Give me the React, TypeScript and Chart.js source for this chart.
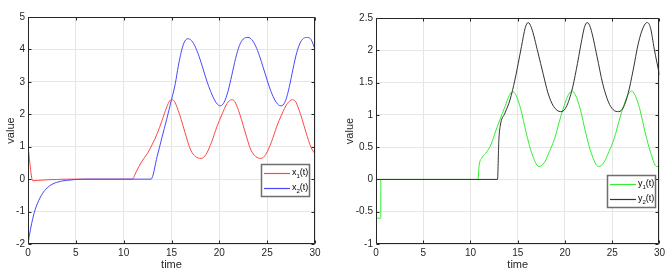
import React, { useEffect, useRef } from "react";
import { Chart, registerables } from "chart.js";

Chart.register(...registerables);

// ---------- Data (left panel) ----------
const tX1 = [0, 0.5, 1, 2, 3, 4, 10.9, 11.3, 11.9, 12.5, 13, 13.5, 14, 14.5, 14.8, 15, 15.3, 15.7, 16, 16.4, 17, 17.5, 18.1, 18.6, 19.2, 19.75, 20.25, 20.8, 21.3, 21.6, 22.0, 22.3, 22.7, 23.3, 23.8, 24.35, 24.85, 25.45, 26.0, 26.5, 27.1, 27.65, 27.95, 28.35, 28.65, 29.05, 29.6, 30];
const vX1 = [1, -0.05, -0.04, -0.02, -0.01, 0, 0, 0.22, 0.55, 0.8, 1.08, 1.4, 1.8, 2.22, 2.41, 2.45, 2.4, 2.12, 1.85, 1.45, 0.9, 0.7, 0.64, 0.76, 1.15, 1.62, 1.98, 2.33, 2.45, 2.4, 2.12, 1.85, 1.45, 0.9, 0.7, 0.64, 0.76, 1.15, 1.62, 1.98, 2.33, 2.45, 2.4, 2.12, 1.85, 1.45, 0.97, 0.78];

const tX2 = [0, 0.25, 0.5, 0.75, 1, 1.5, 2, 2.5, 3, 3.5, 4, 5, 6, 12.86, 13.5, 14, 14.5, 15, 15.4, 15.7, 16.0, 16.3, 16.7, 17.1, 17.5, 17.9, 18.3, 18.7, 19.1, 19.5, 19.8, 20.1, 20.5, 20.9, 21.3, 21.7, 22.1, 22.5, 23.0, 23.4, 23.8, 24.2, 24.6, 25.0, 25.4, 25.8, 26.1, 26.45, 26.85, 27.2, 27.6, 28.0, 28.4, 28.8, 29.2, 29.6, 30];
const vX2 = [-2, -1.56, -1.21, -0.94, -0.74, -0.45, -0.27, -0.16, -0.1, -0.06, -0.04, -0.01, 0, 0, 0.7, 1.28, 1.85, 2.45, 2.95, 3.47, 3.9, 4.2, 4.33, 4.27, 4.07, 3.77, 3.4, 3.02, 2.7, 2.44, 2.31, 2.26, 2.37, 2.7, 3.2, 3.72, 4.12, 4.32, 4.37, 4.3, 4.1, 3.8, 3.43, 3.05, 2.7, 2.44, 2.31, 2.26, 2.37, 2.7, 3.25, 3.8, 4.17, 4.34, 4.37, 4.3, 4.0];

// ---------- Data (right panel) ----------
const tY1 = [0, 0.5, 0.51, 10.8, 10.9, 11.2, 11.74, 12.2, 12.6, 13.1, 13.66, 14.1, 14.45, 14.8, 15.3, 15.9, 16.5, 17.25, 17.85, 18.35, 18.9, 19.55, 20.05, 20.4, 20.75, 21.1, 21.6, 22.2, 22.8, 23.55, 24.15, 24.65, 25.2, 25.85, 26.35, 26.7, 27.05, 27.4, 27.9, 28.5, 29.1, 29.7, 30];
const vY1 = [-0.6, -0.6, 0, 0, 0.2, 0.33, 0.43, 0.55, 0.72, 0.92, 1.13, 1.3, 1.36, 1.31, 1.1, 0.72, 0.4, 0.2, 0.27, 0.43, 0.63, 0.97, 1.2, 1.32, 1.37, 1.31, 1.1, 0.72, 0.4, 0.2, 0.27, 0.43, 0.63, 0.97, 1.2, 1.32, 1.37, 1.31, 1.1, 0.72, 0.4, 0.2, 0.2];

const tY2 = [0, 12.86, 13.0, 13.14, 13.66, 14.18, 14.7, 15.4, 15.8, 16.1, 16.45, 17.15, 17.7, 18.2, 18.8, 19.55, 20.05, 20.7, 21.2, 21.7, 22.05, 22.35, 22.7, 23.4, 24.0, 24.6, 25.1, 25.7, 26.2, 26.7, 27.2, 27.77, 28.3, 28.7, 29.05, 29.45, 30];
const vY2 = [0, 0, 0.6, 0.82, 1.03, 1.23, 1.54, 2.06, 2.35, 2.43, 2.35, 1.96, 1.63, 1.34, 1.13, 1.05, 1.1, 1.36, 1.7, 2.1, 2.35, 2.43, 2.35, 1.9, 1.48, 1.2, 1.08, 1.05, 1.12, 1.34, 1.68, 2.11, 2.36, 2.43, 2.35, 2.02, 1.62];

const xLabel = "time";
const yLabel = "value";
const legendLeft = [
  { base: "x", sub: "1", tail: "(t)" },
  { base: "x", sub: "2", tail: "(t)" },
];
const legendRight = [
  { base: "y", sub: "1", tail: "(t)" },
  { base: "y", sub: "2", tail: "(t)" },
];

const FONT = '"Liberation Sans", Arial, sans-serif';
const TICK_COLOR = "#262626";

const pts = (t: number[], v: number[]) => t.map((x, i) => ({ x, y: v[i] }));

const matlabPlugin = {
  id: "matlab",
  afterDraw(chart: any, _args: any, opts: any) {
    const ctx = chart.ctx as CanvasRenderingContext2D;
    const a = chart.chartArea;
    const L = Math.round(a.left) + 0.5;
    const R = Math.round(a.right) - 0.5;
    const T = Math.round(a.top) + 0.5;
    const B = Math.round(a.bottom) - 0.5;
    ctx.save();
    ctx.strokeStyle = TICK_COLOR;
    ctx.lineWidth = 1;
    ctx.beginPath();
    ctx.rect(L, T, R - L, B - T);
    ctx.stroke();
    const xs = chart.scales.x;
    const ys = chart.scales.y;
    ctx.beginPath();
    xs.ticks.forEach((_t: any, i: number) => {
      const px = Math.round(xs.getPixelForTick(i)) + 0.5;
      ctx.moveTo(px, B);
      ctx.lineTo(px, B - 3);
      ctx.moveTo(px, T);
      ctx.lineTo(px, T + 3);
    });
    ys.ticks.forEach((_t: any, i: number) => {
      const py = Math.round(ys.getPixelForTick(i)) + 0.5;
      ctx.moveTo(L, py);
      ctx.lineTo(L + 3, py);
      ctx.moveTo(R, py);
      ctx.lineTo(R - 3, py);
    });
    ctx.stroke();

    // legend
    const lg = opts.legend;
    if (lg) {
      const bx = Math.round(a.right) - lg.right - lg.w;
      const by = lg.top;
      ctx.fillStyle = "#ffffff";
      ctx.fillRect(bx, by, lg.w, lg.h);
      ctx.strokeStyle = "#6e6e6e";
      ctx.lineWidth = 1.5;
      ctx.strokeRect(bx + 0.5, by + 0.5, lg.w, lg.h);
      lg.rows.forEach((r: any, i: number) => {
        const y = by + lg.rowY[i];
        const color = chart.data.datasets[i].borderColor;
        ctx.strokeStyle = color;
        ctx.lineWidth = 1.2;
        ctx.beginPath();
        ctx.moveTo(bx + 3, y + 0.5);
        ctx.lineTo(bx + 29, y + 0.5);
        ctx.stroke();
        ctx.fillStyle = "#000000";
        ctx.textBaseline = "middle";
        ctx.textAlign = "left";
        let x = bx + 31;
        ctx.font = "9px " + FONT;
        ctx.fillText(r.base, x, y);
        x += ctx.measureText(r.base).width;
        ctx.font = "6px " + FONT;
        ctx.fillText(r.sub, x, y + 3);
        x += ctx.measureText(r.sub).width;
        ctx.font = "9px " + FONT;
        ctx.fillText(r.tail, x, y);
      });
    }
    ctx.restore();
  },
};

function makeConfig(
  ds: { data: { x: number; y: number }[]; color: string }[],
  yMin: number,
  yMax: number,
  yStep: number,
  yWidth: number,
  padding: any,
  legend: any
): any {
  return {
    type: "line",
    data: {
      datasets: ds.map((d, i) => ({
        data: d.data,
        borderColor: d.color,
        borderWidth: 1,
        pointRadius: 0,
        fill: false,
        cubicInterpolationMode: "monotone",
        order: ds.length - i,
      })),
    },
    options: {
      responsive: false,
      animation: false,
      events: [],
      layout: { padding },
      plugins: {
        legend: { display: false },
        tooltip: { enabled: false },
        matlab: { legend },
      },
      scales: {
        x: {
          type: "linear",
          min: 0,
          max: 30,
          ticks: {
            stepSize: 5,
            color: TICK_COLOR,
            font: { family: FONT, size: 10 },
            padding: 3,
            maxRotation: 0,
          },
          grid: { color: "#e6e6e6", drawTicks: false },
          border: { display: false },
          title: {
            display: true,
            text: xLabel,
            color: TICK_COLOR,
            font: { family: FONT, size: 11 },
            padding: { top: 0, bottom: 4 },
          },
          afterFit: (s: any) => {
            s.height = 32;
          },
        },
        y: {
          type: "linear",
          min: yMin,
          max: yMax,
          ticks: {
            stepSize: yStep,
            color: TICK_COLOR,
            font: { family: FONT, size: 10 },
            padding: 3,
            callback: (v: any) => String(Math.round(v * 100) / 100),
          },
          grid: { color: "#e6e6e6", drawTicks: false },
          border: { display: false },
          title: {
            display: true,
            text: yLabel,
            color: TICK_COLOR,
            font: { family: FONT, size: 11 },
            padding: { top: 4, bottom: 0 },
          },
          afterFit: (s: any) => {
            s.width = yWidth;
          },
        },
      },
    },
    plugins: [matlabPlugin],
  };
}

export default function App() {
  const leftRef = useRef<HTMLCanvasElement | null>(null);
  const rightRef = useRef<HTMLCanvasElement | null>(null);

  useEffect(() => {
    const c1 = new Chart(
      leftRef.current as HTMLCanvasElement,
      makeConfig(
        [
          { data: pts(tX1, vX1), color: "#ff4747" },
          { data: pts(tX2, vX2), color: "#4747ff" },
        ],
        -2,
        5,
        1,
        28,
        { top: 17, right: 19, left: 0, bottom: 0 },
        { right: 6, top: 164, w: 48, h: 32, rowY: [9, 24], rows: legendLeft }
      )
    );
    const c2 = new Chart(
      rightRef.current as HTMLCanvasElement,
      makeConfig(
        [
          { data: pts(tY1, vY1), color: "#33ee33" },
          { data: pts(tY2, vY2), color: "#333333" },
        ],
        -1,
        2.5,
        0.5,
        37,
        { top: 18, right: 5, left: 5, bottom: 0 },
        { right: 4, top: 175, w: 48, h: 32, rowY: [9, 24], rows: legendRight }
      )
    );
    return () => {
      c1.destroy();
      c2.destroy();
    };
  }, []);

  return (
    <div
      style={{
        position: "fixed",
        left: 0,
        top: 0,
        width: 668,
        height: 276,
        background: "#ffffff",
      }}
    >
      <canvas
        ref={leftRef}
        width={334}
        height={276}
        style={{ position: "absolute", left: 0, top: 0, width: 334, height: 276 }}
      />
      <canvas
        ref={rightRef}
        width={334}
        height={276}
        style={{ position: "absolute", left: 334, top: 0, width: 334, height: 276 }}
      />
    </div>
  );
}
